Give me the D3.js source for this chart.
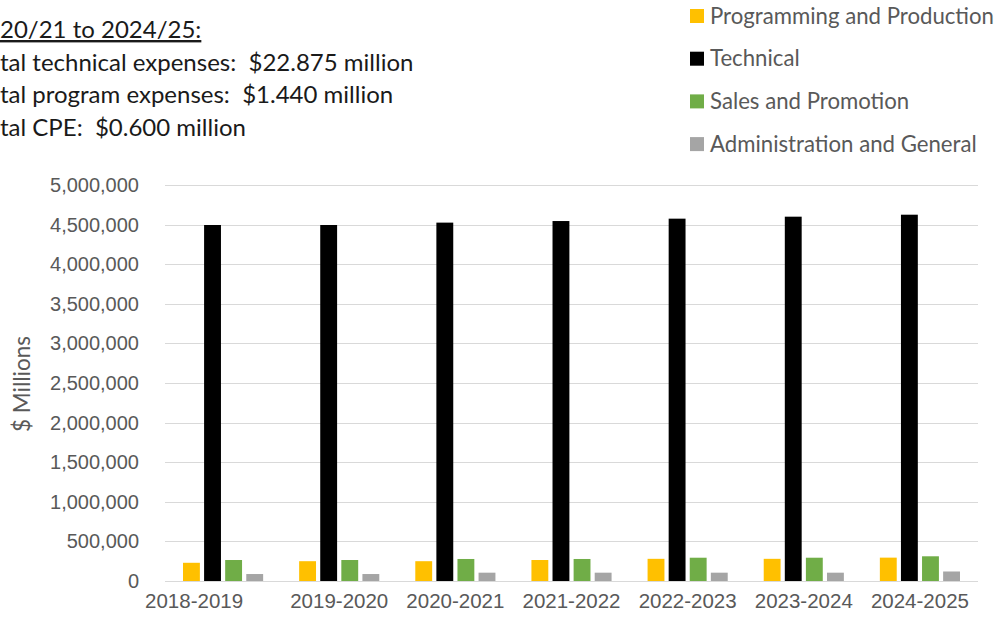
<!DOCTYPE html>
<html>
<head>
<meta charset="utf-8">
<script src="https://cdn.jsdelivr.net/npm/d3@7"></script>
<style>
  body { margin: 0; background: #fff; }
  svg { display: block; font-family: Lato, "Noto Sans", sans-serif; }
</style>
</head>
<body>
<script>
const years = ["2018-2019", "2019-2020", "2020-2021", "2021-2022", "2022-2023", "2023-2024", "2024-2025"];
const seriesNames = ["Programming and Production", "Technical", "Sales and Promotion", "Administration and General"];
const seriesColors = ["#ffc000", "#000000", "#70ad47", "#a5a5a5"];

const programming = [230000, 250000, 250000, 265000, 280000, 280000, 295000];
const technical = [4495000, 4495000, 4525000, 4545000, 4575000, 4600000, 4625000];
const sales = [265000, 265000, 278000, 278000, 294000, 294000, 312000];
const admin = [88000, 88000, 105000, 105000, 105000, 105000, 120000];

const yTicks = [0, 500000, 1000000, 1500000, 2000000, 2500000, 3000000, 3500000, 4000000, 4500000, 5000000];

const noteLines = [
    "20/21 to 2024/25:",
    "tal technical expenses:  $22.875 million",
    "tal program expenses:  $1.440 million",
    "tal CPE:  $0.600 million"
];

const W = 1001, H = 625;
const margin = { top: 185, right: 23, bottom: 44, left: 165 };
const width = W - margin.left - margin.right;
const height = H - margin.top - margin.bottom;

const svg = d3.select("body").append("svg")
    .attr("width", W)
    .attr("height", H);

const g = svg.append("g")
    .attr("transform", "translate(" + margin.left + "," + margin.top + ")");

// Scales
const x0 = d3.scaleBand()
    .domain(years)
    .range([0, width])
    .paddingInner(0.31)
    .paddingOuter(0.155);

const x1 = d3.scaleBand()
    .domain(seriesNames)
    .range([0, x0.bandwidth()])
    .paddingInner(0.2);

const y = d3.scaleLinear()
    .domain([0, 5000000])
    .range([height, 0]);

// Gridlines
g.append("g")
    .selectAll("line")
    .data(yTicks)
    .join("line")
    .attr("x1", 0)
    .attr("x2", width)
    .attr("y1", d => Math.round(y(d)) + 0.5)
    .attr("y2", d => Math.round(y(d)) + 0.5)
    .attr("stroke", "#d9d9d9")
    .attr("stroke-width", 1.2);

// Y axis
const yAxis = g.append("g")
    .call(d3.axisLeft(y).tickValues(yTicks).tickSize(0).tickPadding(26).tickFormat(d3.format(",")));
yAxis.select(".domain").remove();
yAxis.selectAll("text")
    .attr("fill", "#595959")
    .style("font-size", "20px");

// Y label
svg.append("text")
    .attr("transform", "rotate(-90)")
    .attr("x", -384)
    .attr("y", 30)
    .attr("text-anchor", "middle")
    .attr("fill", "#595959")
    .style("font-size", "22.5px")
    .text("$ Millions");

// X axis
const xAxis = g.append("g")
    .attr("transform", "translate(0," + height + ")")
    .call(d3.axisBottom(x0).tickSize(0).tickPadding(12));
xAxis.select(".domain").remove();
xAxis.selectAll("text")
    .attr("fill", "#595959")
    .style("font-size", "20.5px");
// first label sits shifted left, as in the original
xAxis.selectAll(".tick").filter((d, i) => i === 0).select("text").attr("dx", -29);

// Bars
const rows = years.map((yr, i) => ({
    year: yr,
    values: [programming[i], technical[i], sales[i], admin[i]]
}));

g.append("g")
    .selectAll("g")
    .data(rows)
    .join("g")
    .attr("transform", d => "translate(" + x0(d.year) + ",0)")
    .selectAll("rect")
    .data(d => d.values.map((v, k) => ({ key: seriesNames[k], value: v, color: seriesColors[k] })))
    .join("rect")
    .attr("x", d => x1(d.key))
    .attr("y", d => y(d.value))
    .attr("width", x1.bandwidth())
    .attr("height", d => y(0) - y(d.value))
    .attr("fill", d => d.color);

// Legend
const legend = svg.append("g")
    .attr("transform", "translate(690,16)");
const legendItem = legend.selectAll("g")
    .data(seriesNames)
    .join("g")
    .attr("transform", (d, i) => "translate(0," + (i * 42.7) + ")");
legendItem.append("rect")
    .attr("x", 0)
    .attr("y", -7)
    .attr("width", 14)
    .attr("height", 14)
    .attr("fill", (d, i) => seriesColors[i]);
legendItem.append("text")
    .attr("x", 20)
    .attr("y", 0)
    .attr("dy", "0.35em")
    .attr("fill", "#595959")
    .style("font-size", "22.2px")
    .text(d => d);

// Note text top-left
const notes = svg.append("g");
notes.selectAll("text")
    .data(noteLines)
    .join("text")
    .attr("x", 0)
    .attr("y", (d, i) => 38 + i * 32.5)
    .attr("fill", "#1a1a1a")
    .style("font-size", "24px")
    .style("white-space", "pre")
    .style("text-decoration", (d, i) => i === 0 ? "underline" : null)
    .text(d => d);
</script>
</body>
</html>
